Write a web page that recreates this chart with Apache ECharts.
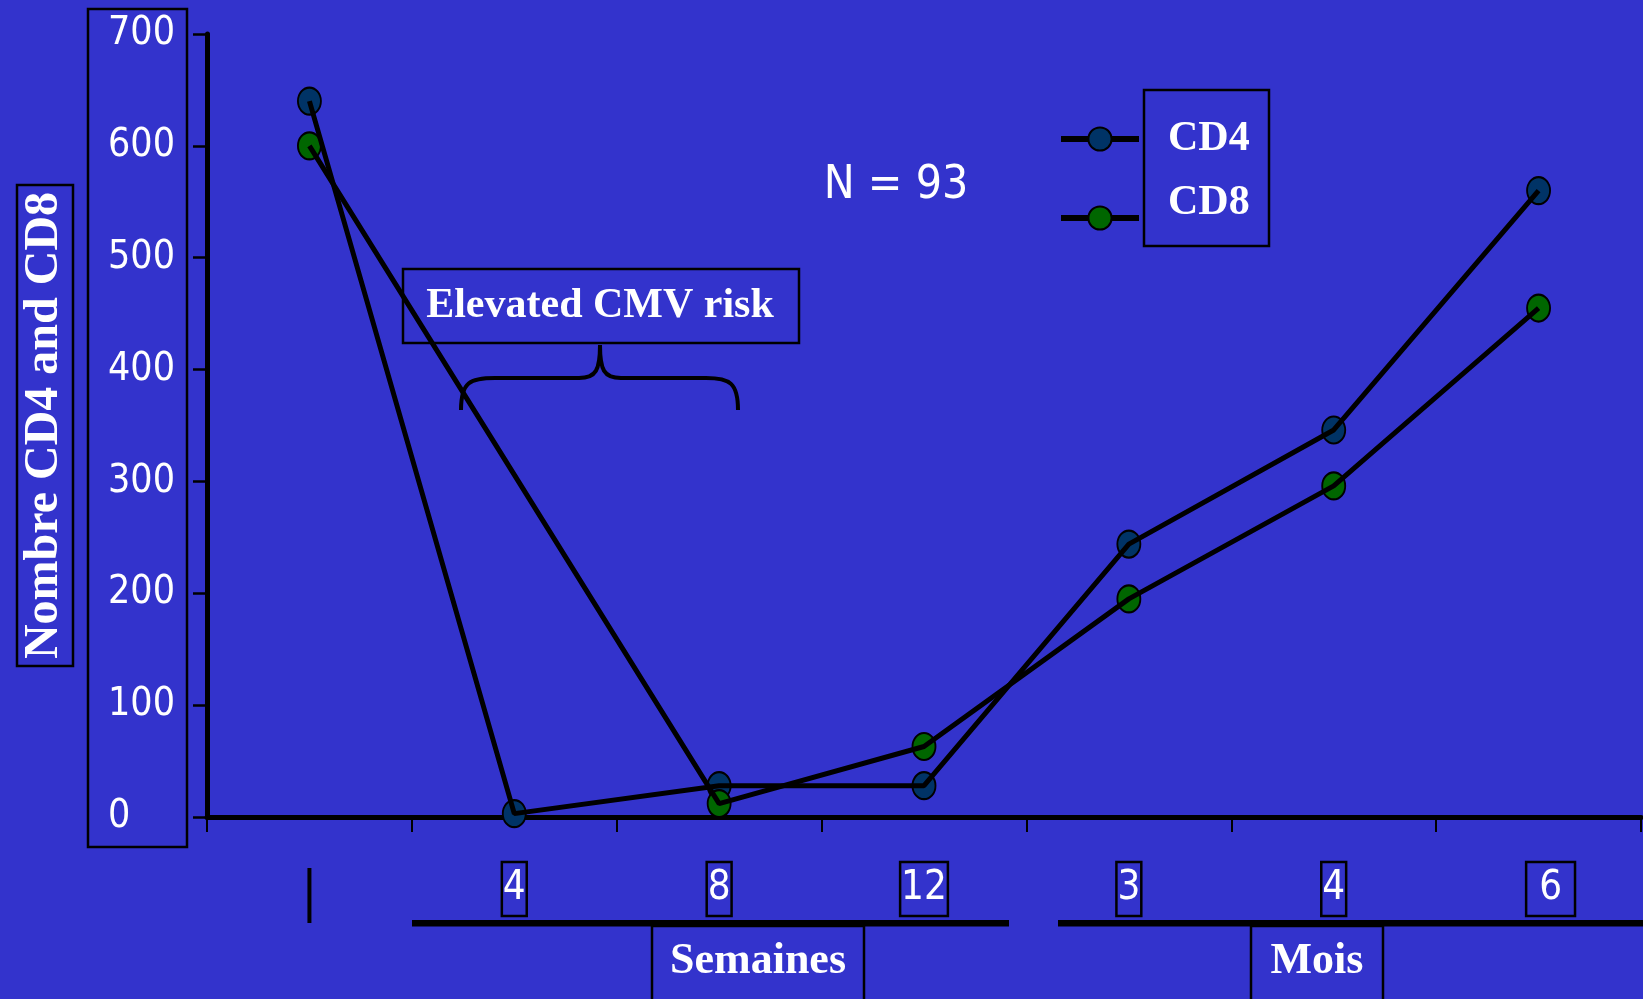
<!DOCTYPE html>
<html>
<head>
<meta charset="utf-8">
<title>Nombre CD4 and CD8</title>
<script src="https://cdn.jsdelivr.net/npm/echarts@6/dist/echarts.min.js"></script>
<style>
  html, body { margin: 0; padding: 0; background: #3333cc; }
  #chart { width: 1643px; height: 999px; }
</style>
</head>
<body>
<div id="chart"></div>
<script>
// Time points: baseline, then weeks 4/8/12, then months 3/4/6
const categories = ['|', '4', '8', '12', '3', '4', '6'];
const seriesNames = ['CD4', 'CD8'];
const cd4Values = [640, 3, 28, 28, 244, 346, 560];
const cd8Values = [600, null, 12, 63, 195, 296, 455];
const yMin = 0;
const yMax = 700;
const yStep = 100;
const yAxisTitle = 'Nombre CD4 and CD8';
const periodLabels = ['Semaines', 'Mois'];
const riskLabel = 'Elevated CMV risk';
const sampleLabel = 'N = 93';

const BG = '#3333cc';
const CD4_COLOR = '#003366';
const CD8_COLOR = '#006600';
const NARROW = '"Liberation Sans Narrow", "DejaVu Sans Condensed", "Arial Narrow", sans-serif';
const SERIF = '"Liberation Serif", "Times New Roman", serif';

const chart = echarts.init(document.getElementById('chart'), null, { renderer: 'canvas' });

const markerStyle = (color) => ({ color: color, borderColor: '#000', borderWidth: 2, opacity: 1 });

// lines sit above the markers, so each series is split into a line and its markers
function lineSeries(name, values, color) {
  return {
    name: name, type: 'line', data: values,
    symbol: 'circle', showSymbol: false, connectNulls: true,
    lineStyle: { color: '#000', width: 5 },
    itemStyle: markerStyle(color),
    z: 4, silent: true, animation: false
  };
}
function markerSeries(name, values, color) {
  return {
    name: name, type: 'scatter', data: values,
    symbol: 'circle', symbolSize: [23, 27],
    itemStyle: markerStyle(color),
    z: 3, silent: true, animation: false
  };
}

const boxStroke = { fill: 'none', stroke: '#000', lineWidth: 2.5 };
const braceStyle = { fill: 'none', stroke: '#000', lineWidth: 4 };

const option = {
  backgroundColor: BG,
  animation: false,
  grid: { left: 207, right: 2, top: 34, bottom: 182, containLabel: false, outerBoundsMode: 'none' },
  xAxis: {
    type: 'category',
    data: categories,
    boundaryGap: true,
    axisLine: { show: true, lineStyle: { color: '#000', width: 5 } },
    axisTick: { show: true, length: 15, lineStyle: { color: '#000', width: 2 } },
    splitLine: { show: false },
    axisLabel: {
      margin: 51,
      interval: 0,
      formatter: function (value, index) {
        if (index === 0) return '{bar| }';
        if (index === categories.length - 1) return '{gap| }{wide|' + value + '}';
        return '{box|' + value + '}';
      },
      rich: {
        bar: { width: 4, height: 55, backgroundColor: '#000', lineHeight: 55 },
        gap: { width: 24, fontSize: 1 },
        box: {
          color: '#fff', fontFamily: NARROW, fontSize: 40, lineHeight: 42,
          borderColor: '#000', borderWidth: 2.5, padding: [7, 1, 7, 1]
        },
        wide: {
          color: '#fff', fontFamily: NARROW, fontSize: 40, lineHeight: 42,
          borderColor: '#000', borderWidth: 2.5, padding: [7, 13, 7, 13]
        }
      }
    }
  },
  yAxis: {
    type: 'value',
    min: yMin, max: yMax, interval: yStep,
    name: yAxisTitle,
    nameLocation: 'middle',
    nameRotate: 90,
    nameGap: 134,
    nameTextStyle: {
      color: '#fff', fontFamily: SERIF, fontWeight: 'bold', fontSize: 48,
      lineHeight: 52, borderColor: '#000', borderWidth: 2.5, padding: [2, 7, 2, 7]
    },
    axisLine: { show: true, lineStyle: { color: '#000', width: 5 } },
    axisTick: { show: true, length: 14, lineStyle: { color: '#000', width: 2.5 } },
    splitLine: { show: false },
    axisLabel: {
      color: '#fff', fontFamily: NARROW, fontSize: 39,
      align: 'left', margin: 99
    }
  },
  legend: {
    orient: 'vertical',
    left: 1058, top: 118, padding: 0,
    itemWidth: 78, itemHeight: 29, itemGap: 22,
    selectedMode: false,
    lineStyle: { color: '#000', width: 6 },
    itemStyle: { borderColor: '#000', borderWidth: 2 },
    // the second name sits a little above its marker
    formatter: function (name) {
      return name === seriesNames[1] ? '{t|' + name + '}\n{s| }' : '{t|' + name + '}';
    },
    textStyle: {
      color: '#fff', fontFamily: SERIF, fontWeight: 'bold', fontSize: 42,
      padding: [0, 0, 0, 24],
      rich: {
        t: { color: '#fff', fontFamily: SERIF, fontWeight: 'bold', fontSize: 42, lineHeight: 44 },
        s: { fontSize: 1, lineHeight: 30 }
      }
    },
    data: seriesNames
  },
  graphic: [
    // frame around the value labels
    { type: 'rect', shape: { x: 88, y: 9, width: 99, height: 838 }, style: boxStroke, silent: true },
    // frame around the legend names
    { type: 'rect', shape: { x: 1144, y: 90, width: 125, height: 156 }, style: boxStroke, silent: true },
    // risk window annotation
    { type: 'rect', shape: { x: 403, y: 269, width: 396, height: 74 }, style: boxStroke, silent: true },
    {
      type: 'text', x: 600, y: 306, silent: true,
      style: { text: riskLabel, fill: '#fff', font: 'bold 42px ' + SERIF, align: 'center', verticalAlign: 'middle' }
    },
    { type: 'bezierCurve', silent: true, shape: { x1: 461, y1: 410, cpx1: 461, cpy1: 382, cpx2: 470, cpy2: 378, x2: 495, y2: 378 }, style: braceStyle },
    { type: 'line', silent: true, shape: { x1: 494, y1: 378, x2: 580, y2: 378 }, style: braceStyle },
    { type: 'bezierCurve', silent: true, shape: { x1: 579, y1: 378, cpx1: 596, cpy1: 378, cpx2: 600, cpy2: 370, x2: 600, y2: 345 }, style: braceStyle },
    { type: 'bezierCurve', silent: true, shape: { x1: 600, y1: 345, cpx1: 600, cpy1: 370, cpx2: 604, cpy2: 378, x2: 621, y2: 378 }, style: braceStyle },
    { type: 'line', silent: true, shape: { x1: 620, y1: 378, x2: 707, y2: 378 }, style: braceStyle },
    { type: 'bezierCurve', silent: true, shape: { x1: 706, y1: 378, cpx1: 730, cpy1: 378, cpx2: 738, cpy2: 383, x2: 738, y2: 410 }, style: braceStyle },
    // sample size
    {
      type: 'text', x: 896, y: 186, silent: true,
      style: { text: sampleLabel, fill: '#fff', font: '46px ' + NARROW, align: 'center', verticalAlign: 'middle' }
    },
    // period groupings under the time axis
    { type: 'rect', silent: true, shape: { x: 412, y: 920, width: 597, height: 6.5 }, style: { fill: '#000' } },
    { type: 'rect', silent: true, shape: { x: 1058, y: 920, width: 590, height: 6.5 }, style: { fill: '#000' } },
    { type: 'rect', silent: true, shape: { x: 652, y: 926, width: 212, height: 90 }, style: boxStroke },
    { type: 'rect', silent: true, shape: { x: 1251, y: 926, width: 132, height: 90 }, style: boxStroke },
    {
      type: 'text', x: 758, y: 962, silent: true,
      style: { text: periodLabels[0], fill: '#fff', font: 'bold 44px ' + SERIF, align: 'center', verticalAlign: 'middle' }
    },
    {
      type: 'text', x: 1317, y: 962, silent: true,
      style: { text: periodLabels[1], fill: '#fff', font: 'bold 44px ' + SERIF, align: 'center', verticalAlign: 'middle' }
    }
  ],
  series: [
    lineSeries(seriesNames[0], cd4Values, CD4_COLOR),
    lineSeries(seriesNames[1], cd8Values, CD8_COLOR),
    markerSeries(seriesNames[0], cd4Values, CD4_COLOR),
    markerSeries(seriesNames[1], cd8Values, CD8_COLOR)
  ]
};

chart.setOption(option);
</script>
</body>
</html>
